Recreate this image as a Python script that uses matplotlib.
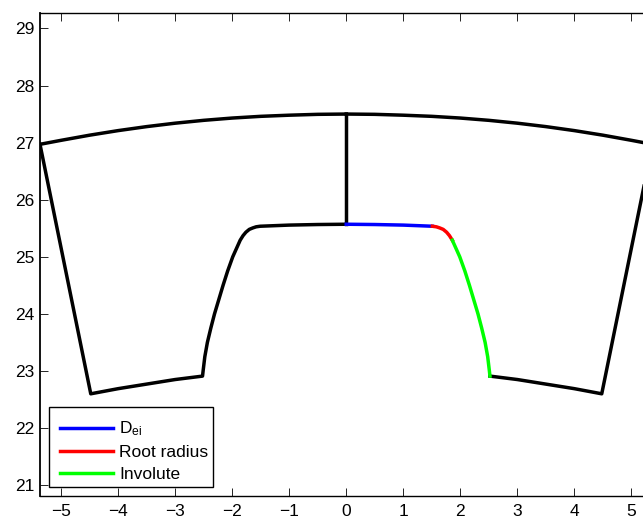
import matplotlib
matplotlib.use('Agg')
import matplotlib.pyplot as plt
from matplotlib.legend_handler import HandlerLine2D
from matplotlib.lines import Line2D

plt.rcParams['font.family'] = ['Liberation Sans', 'DejaVu Sans']
plt.rcParams['mathtext.fontset'] = 'custom'
plt.rcParams['mathtext.rm'] = 'Liberation Sans'
plt.rcParams['mathtext.default'] = 'rm'

# right half of the outer arc
arc_x = [0, 0.5, 1, 1.5, 2, 2.5, 3, 3.5, 4, 4.5, 5, 5.37]
arc_y = [27.5, 27.495, 27.48, 27.46, 27.43, 27.39, 27.34, 27.28, 27.21, 27.13, 27.04, 26.97]

center_x = [0, 0]
center_y = [25.57, 27.5]

# blue, red and green pieces of the right side
dei_x = [0, 0.5, 1.0, 1.51]
dei_y = [25.57, 25.565, 25.555, 25.535]
root_x = [1.51, 1.58, 1.64, 1.70, 1.76, 1.81, 1.86]
root_y = [25.535, 25.525, 25.505, 25.48, 25.43, 25.37, 25.29]
inv_x = [1.86, 1.99, 2.08, 2.16, 2.235, 2.31, 2.375, 2.435, 2.48, 2.51, 2.52]
inv_y = [25.29, 25.0, 24.75, 24.5, 24.25, 24.0, 23.75, 23.5, 23.25, 23.0, 22.91]

# black tooth outline on the right
tooth_x = [2.52, 3, 3.5, 4, 4.48, 5.37]
tooth_y = [22.91, 22.85, 22.77, 22.69, 22.6, 26.97]

x_ticks = [-5, -4, -3, -2, -1, 0, 1, 2, 3, 4, 5]
y_ticks = [21, 22, 23, 24, 25, 26, 27, 28, 29]

# left side is the same outline mirrored
side_x = dei_x + root_x + inv_x + tooth_x
side_y = dei_y + root_y + inv_y + tooth_y
left_x = [-v for v in side_x]
arc_left_x = [-v for v in arc_x]

fig = plt.figure(figsize=(6.43, 5.2), dpi=100)
ax = fig.add_axes([40 / 643, 1 - 496 / 520, 612.5 / 643, 483 / 520])

lw = 2.5
ax.plot(arc_x, arc_y, color='k', lw=lw)
ax.plot(arc_left_x, arc_y, color='k', lw=lw)
ax.plot(center_x, center_y, color='k', lw=lw)
ax.plot(left_x, side_y, color='k', lw=lw)
ax.plot(tooth_x, tooth_y, color='k', lw=lw)
ax.plot(dei_x, dei_y, color='#0000ff', lw=lw, label='D$_{ei}$')
ax.plot(root_x, root_y, color='#ff0000', lw=lw, label='Root radius')
ax.plot(inv_x, inv_y, color='#00ff00', lw=lw, label='Involute')

ax.set_xlim(-5.37, 5.37)
ax.set_ylim(20.81, 29.27)
ax.set_xticks(x_ticks)
ax.set_yticks(y_ticks)
ax.tick_params(direction='in', length=5.5, width=0.6, top=True, right=True,
               labelsize=12.5, pad=4)
ax.tick_params(axis='x', pad=6)
for s in ax.spines.values():
    s.set_linewidth(1.0)
ax.spines['left'].set_linewidth(1.3)

# blank title only pads the top of the box
leg = ax.legend(loc='lower left', bbox_to_anchor=(9 / 612.5, 9 / 483), fontsize=12.5,
                fancybox=False, framealpha=1, edgecolor='k', borderaxespad=0,
                handlelength=3.4, handletextpad=0.33, labelspacing=0.38,
                borderpad=0.3, title=' ', title_fontsize=1,
                handler_map={Line2D: HandlerLine2D(xpad=0.32)})
leg.get_frame().set_linewidth(1.0)

plt.savefig('out.png', dpi=100)
